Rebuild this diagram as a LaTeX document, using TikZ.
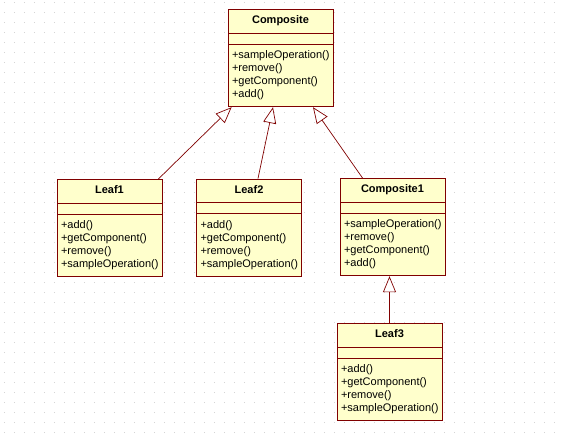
\documentclass[tikz,border=0pt]{standalone}
\usepackage{fontspec}
\setmainfont{Liberation Sans}
\usetikzlibrary{shapes.multipart,arrows.meta}
\definecolor{classfill}{RGB}{255,255,204}
\definecolor{classline}{RGB}{128,0,0}
\definecolor{griddot}{RGB}{212,212,212}

\tikzset{
  umlclass/.style={rectangle split,rectangle split parts=3,draw=classline,
    fill=classfill,line width=0.8pt,text width=97pt,inner xsep=4pt,inner ysep=5pt,
    font=\fontsize{11}{13}\selectfont,align=left,anchor=north},
  inherit/.style={draw=classline,line width=0.7pt,
    -{Triangle[open,length=16pt,width=13pt,line width=0.7pt]}},
}
\newcommand{\classname}[1]{\strut\hfill\textbf{#1}\hfill\null}

\begin{document}
\begin{tikzpicture}[x=1pt,y=-1pt]
  \useasboundingbox (0,0) rectangle (563,439);
  % dotted background
  \foreach \gx in {4,14,...,563}{
    \foreach \gy in {2,12,...,439}{
      \fill[griddot] (\gx,\gy) rectangle ++(1,1);
    }
  }
  % classes
  \node[umlclass] (composite) at (280.5,9) {\classname{Composite}
    \nodepart{two}
    \nodepart{three}\strut+sampleOperation()\\+remove()\\+getComponent()\\+add()\strut};
  \node[umlclass] (leafone) at (109.5,179) {\classname{Leaf1}
    \nodepart{two}
    \nodepart{three}\strut+add()\\+getComponent()\\+remove()\\+sampleOperation()\strut};
  \node[umlclass] (leaftwo) at (249,178.5) {\classname{Leaf2}
    \nodepart{two}
    \nodepart{three}\strut+add()\\+getComponent()\\+remove()\\+sampleOperation()\strut};
  \node[umlclass] (compositeone) at (392.5,178) {\classname{Composite1}
    \nodepart{two}
    \nodepart{three}\strut+sampleOperation()\\+remove()\\+getComponent()\\+add()\strut};
  \node[umlclass] (leafthree) at (389.5,323) {\classname{Leaf3}
    \nodepart{two}
    \nodepart{three}\strut+add()\\+getComponent()\\+remove()\\+sampleOperation()\strut};
  % generalizations
  \draw[inherit] ([xshift=-4pt]leafone.north east) -- ([xshift=4pt]composite.south west);
  \draw[inherit] ([xshift=9pt]leaftwo.north) -- ([xshift=-7.5pt]composite.south);
  \draw[inherit] ([xshift=-30pt]compositeone.north) -- ([xshift=32.5pt]composite.south);
  \draw[inherit] (leafthree.north) -- (leafthree.north |- compositeone.south);
\end{tikzpicture}
\end{document}
